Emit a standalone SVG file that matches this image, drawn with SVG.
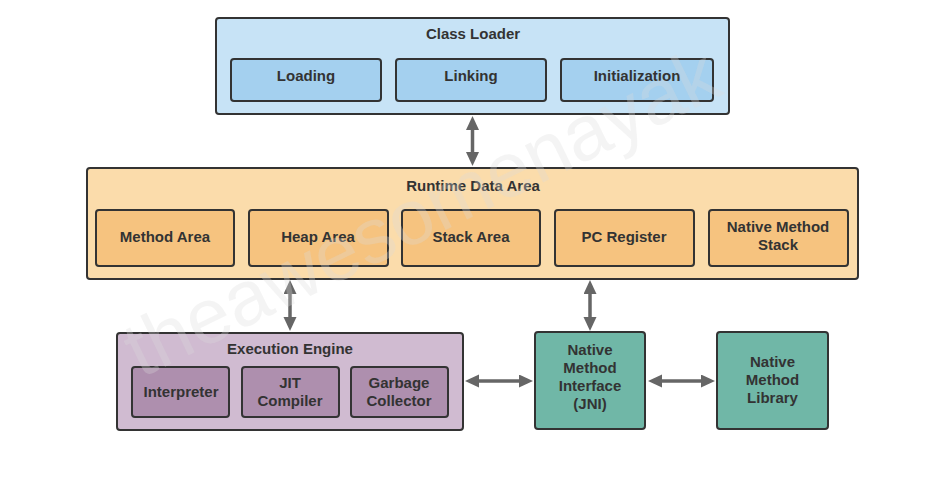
<svg xmlns="http://www.w3.org/2000/svg" width="932" height="502" viewBox="0 0 932 502">
<style>
  .box { stroke: #333333; stroke-width: 2; }
  .cl-o { fill: #c7e3f6; } .cl-i { fill: #a4d0ef; }
  .rt-o { fill: #fbdcab; } .rt-i { fill: #f6c37f; }
  .ee-o { fill: #d0bbd1; } .ee-i { fill: #ae8fae; }
  .nm { fill: #70b7a7; }
  text { font-family: "Liberation Sans", Arial, sans-serif; font-weight: bold; font-size: 15px; fill: #333333; text-anchor: middle; }
  .conn line { stroke: #666666; stroke-width: 3.5; fill: none; marker-start: url(#ah); marker-end: url(#ah); }
  .wm { font-weight: normal; font-size: 78px; fill: #dcdcdc; fill-opacity: 0.3; }
</style>
<defs>
  <marker id="ah" markerUnits="userSpaceOnUse" markerWidth="16" markerHeight="14" refX="4" refY="6.5" orient="auto-start-reverse" viewBox="0 0 16 14">
    <path d="M0,0 L14,6.5 L0,13 z" fill="#666666"/>
  </marker>
</defs>
<rect width="932" height="502" fill="#ffffff"/>

<g id="class-loader">
  <rect class="box cl-o" x="216" y="18" width="513" height="96" rx="3"/>
  <text x="473" y="38.5">Class Loader</text>
  <g id="loading"><rect class="box cl-i" x="231" y="59" width="150" height="42" rx="3"/><text x="306" y="81">Loading</text></g>
  <g id="linking"><rect class="box cl-i" x="396" y="59" width="150" height="42" rx="3"/><text x="471" y="81">Linking</text></g>
  <g id="initialization"><rect class="box cl-i" x="561" y="59" width="152" height="42" rx="3"/><text x="637" y="81">Initialization</text></g>
</g>

<g id="runtime-data-area">
  <rect class="box rt-o" x="87" y="168" width="771" height="111" rx="3"/>
  <text x="473" y="190.5">Runtime Data Area</text>
  <g id="method-area"><rect class="box rt-i" x="96" y="210" width="138" height="56" rx="3"/><text x="165" y="241.5">Method Area</text></g>
  <g id="heap-area"><rect class="box rt-i" x="249" y="210" width="139" height="56" rx="3"/><text x="318" y="241.5">Heap Area</text></g>
  <g id="stack-area"><rect class="box rt-i" x="402" y="210" width="138" height="56" rx="3"/><text x="471" y="241.5">Stack Area</text></g>
  <g id="pc-register"><rect class="box rt-i" x="555" y="210" width="139" height="56" rx="3"/><text x="624" y="241.5">PC Register</text></g>
  <g id="native-method-stack"><rect class="box rt-i" x="709" y="210" width="139" height="56" rx="3"/><text x="778" y="231.5">Native Method</text><text x="778" y="249.5">Stack</text></g>
</g>

<g id="execution-engine">
  <rect class="box ee-o" x="117" y="333" width="346" height="97" rx="3"/>
  <text x="290" y="353.5">Execution Engine</text>
  <g id="interpreter"><rect class="box ee-i" x="132" y="367" width="97" height="50" rx="3"/><text x="181" y="396.5">Interpreter</text></g>
  <g id="jit-compiler"><rect class="box ee-i" x="242" y="367" width="97" height="50" rx="3"/><text x="290" y="387.5">JIT</text><text x="290" y="405.5">Compiler</text></g>
  <g id="garbage-collector"><rect class="box ee-i" x="351" y="367" width="97" height="50" rx="3"/><text x="399" y="387.5">Garbage</text><text x="399" y="405.5">Collector</text></g>
</g>

<g id="jni">
  <rect class="box nm" x="535" y="332" width="110" height="97" rx="3"/>
  <text x="590" y="354.5">Native</text><text x="590" y="372.8">Method</text><text x="590" y="391.1">Interface</text><text x="590" y="409.4">(JNI)</text>
</g>

<g id="native-method-library">
  <rect class="box nm" x="717" y="332" width="111" height="97" rx="3"/>
  <text x="772.5" y="366.5">Native</text><text x="772.5" y="384.8">Method</text><text x="772.5" y="403.1">Library</text>
</g>

<g class="conn" id="connectors">
  <line x1="472.5" y1="126" x2="472.5" y2="156"/>
  <line x1="290" y1="290" x2="290" y2="321"/>
  <line x1="590" y1="290" x2="590" y2="321"/>
  <line x1="475" y1="381" x2="523" y2="381"/>
  <line x1="658" y1="381" x2="705" y2="381"/>
</g>

<text class="wm" x="433" y="236" transform="rotate(-26 433 236)">theawesomenayak</text>
</svg>
